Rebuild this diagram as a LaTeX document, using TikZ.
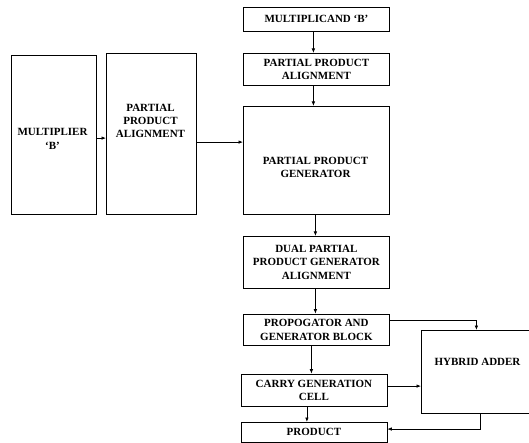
\documentclass[tikz,border=0pt]{standalone}
\usepackage{fontspec}
\setmainfont{Liberation Serif}
\usetikzlibrary{arrows.meta}
\begin{document}
\begin{tikzpicture}[x=1pt,y=-1pt,
  box/.style={draw, line width=0.8pt, inner sep=0pt, anchor=north west,
    font=\bfseries\fontsize{11}{13.3}\selectfont, align=center},
  txt/.style={font=\bfseries\fontsize{11}{13.3}\selectfont, align=center, inner sep=0pt},
  arr/.style={-{Latex[length=4.5pt,width=3.5pt]}, line width=0.7pt}]
\useasboundingbox (0,0) rectangle (529,443);
% boxes
\node[box, minimum width=146pt, minimum height=24pt] (mcand) at (243,7) {MULTIPLICAND ‘B’};
\node[box, minimum width=146pt, minimum height=32pt] (ppa2) at (243,53) {PARTIAL PRODUCT\\ALIGNMENT};
\node[box, minimum width=146pt, minimum height=108pt] (ppg) at (243,106) {};
\node[txt] (ppgt) at (315.5,167.7) {PARTIAL PRODUCT\\GENERATOR};
\node[box, minimum width=85pt, minimum height=159pt] (mult) at (10.5,55) {};
\node[txt] (multt) at (52.5,139) {MULTIPLIER\\‘B’};
\node[box, minimum width=90pt, minimum height=161pt] (ppa1) at (106,53) {};
\node[txt] (ppa1t) at (150.5,121) {PARTIAL\\PRODUCT\\ALIGNMENT};
\node[box, minimum width=146pt, minimum height=52pt] (dual) at (243,236) {DUAL PARTIAL\\PRODUCT GENERATOR\\ALIGNMENT};
\node[box, minimum width=146pt, minimum height=31.5pt] (prop) at (243,313.7) {PROPOGATOR AND\\GENERATOR BLOCK};
\node[box, minimum width=146pt, minimum height=32pt] (carry) at (240.5,373.7) {CARRY GENERATION\\CELL};
\node[box, minimum width=146pt, minimum height=19.7pt] (product) at (240.5,422) {PRODUCT};
\node[box, minimum width=113pt, minimum height=83pt] (hybrid) at (421,330) {};
\node[txt] (hybridt) at (477.5,362) {HYBRID ADDER};
% connectors
\draw[arr] ([xshift=-3pt]mcand.south) -- ([xshift=-3pt]ppa2.north);
\draw[arr] ([xshift=-3pt]ppa2.south) -- ([xshift=-3pt]ppg.north);
\draw[arr] ([yshift=-3.2pt]mult.east) coordinate (m1) -- (ppa1.west |- m1);
\draw[arr] ([yshift=-8.2pt]ppa1.east) coordinate (m2) -- (ppg.west |- m2);
\draw[arr] ([xshift=-1pt]ppg.south) coordinate (m3) -- (dual.north -| m3);
\draw[arr] ([xshift=-1pt]dual.south) coordinate (m4) -- (prop.north -| m4);
\draw[arr] ([xshift=-5pt]prop.south) coordinate (m5) -- (carry.north -| m5);
\draw[arr] ([xshift=-7pt]carry.south) coordinate (m6) -- (product.north -| m6);
\draw[arr] ([yshift=9.3pt]prop.east) -| ([xshift=-1.5pt]hybrid.north);
\draw[arr] ([yshift=4pt]carry.east) coordinate (m7) -- (hybrid.west |- m7);
\draw[arr] ([xshift=2.5pt]hybrid.south) |- ([yshift=3.2pt]product.east);
\end{tikzpicture}
\end{document}
